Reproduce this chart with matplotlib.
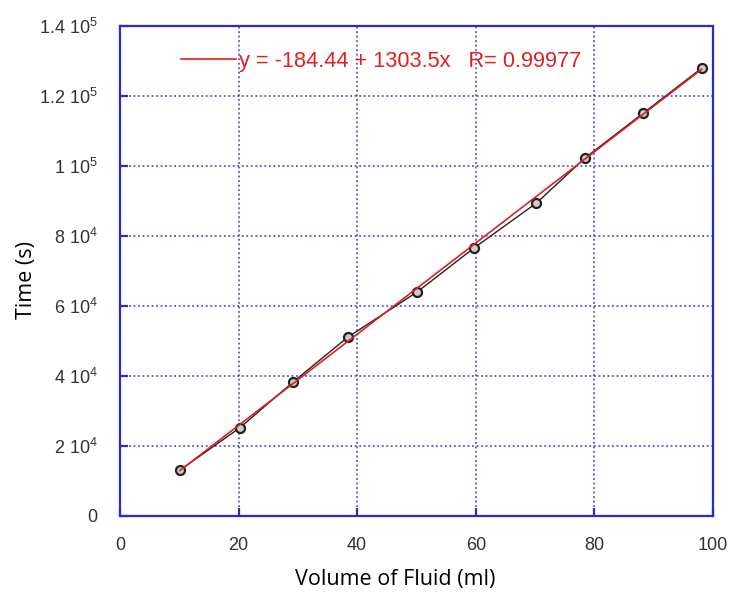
import matplotlib.pyplot as plt
import numpy as np

volume = [10.1, 20.2, 29.2, 38.4, 50.1, 59.7, 70.2, 78.4, 88.2, 98.1]
time_s = [13100, 25200, 38300, 51100, 64000, 76600, 89400, 102300, 115100, 128000]

fit_intercept = -184.44
fit_slope = 1303.5
fit_r = 0.99977

xticks = [0, 20, 40, 60, 80, 100]
yticks = [0, 20000, 40000, 60000, 80000, 100000, 120000, 140000]
ytick_labels = ["0", "2 10$^4$", "4 10$^4$", "6 10$^4$", "8 10$^4$",
                "1 10$^5$", "1.2 10$^5$", "1.4 10$^5$"]

blue = "#2b2bc8"
red = "#e02020"

plt.rcParams['font.family'] = ['Liberation Sans', 'DejaVu Sans']
plt.rcParams['mathtext.fontset'] = 'custom'
plt.rcParams['mathtext.rm'] = 'Liberation Sans'

fig = plt.figure(figsize=(7.29, 5.95), dpi=100)
ax = fig.add_axes([0.1646, 0.1328, 0.8134, 0.8232])

ax.plot(volume, time_s, color="#222222", lw=1.0, marker="o", ms=6.5,
        mfc="#cccccc", mec="#222222", mew=1.6, zorder=3)

xfit = np.array([min(volume), max(volume)])
yfit = fit_intercept + fit_slope * xfit
ax.plot(xfit, yfit, color=red, lw=1.2, zorder=4,
        label="y = %.2f + %.1fx   R= %.5f" % (fit_intercept, fit_slope, fit_r))

ax.set_xlim(0, 100)
ax.set_ylim(0, 140000)
ax.set_xticks(xticks)
ax.set_yticks(yticks)
ax.set_yticklabels(ytick_labels)

ax.grid(True, color=blue, linestyle=(0, (1, 1.5)), lw=1.3, alpha=0.8)
for s in ax.spines.values():
    s.set_color(blue)
    s.set_linewidth(1.6)
ax.tick_params(direction="in", color=blue, length=6, width=1.6,
               labelsize=13, labelcolor="#333333")
ax.tick_params(axis="x", pad=15)
ax.tick_params(axis="y", pad=16)

leg = ax.legend(loc="upper left", bbox_to_anchor=(0.07, 0.99), frameon=False,
                handlelength=2.5, handletextpad=0.15, fontsize=15.7)
for t in leg.get_texts():
    t.set_color(red)

ax.set_xlabel("Volume of Fluid (ml)", fontsize=15.5, family="Open Sans")
ax.set_ylabel("Time (s)", fontsize=15.5, family="Open Sans")
ax.xaxis.set_label_coords(0.464, -0.108)
ax.yaxis.set_label_coords(-0.14, 0.482)

fig.savefig("out.png", dpi=100)
